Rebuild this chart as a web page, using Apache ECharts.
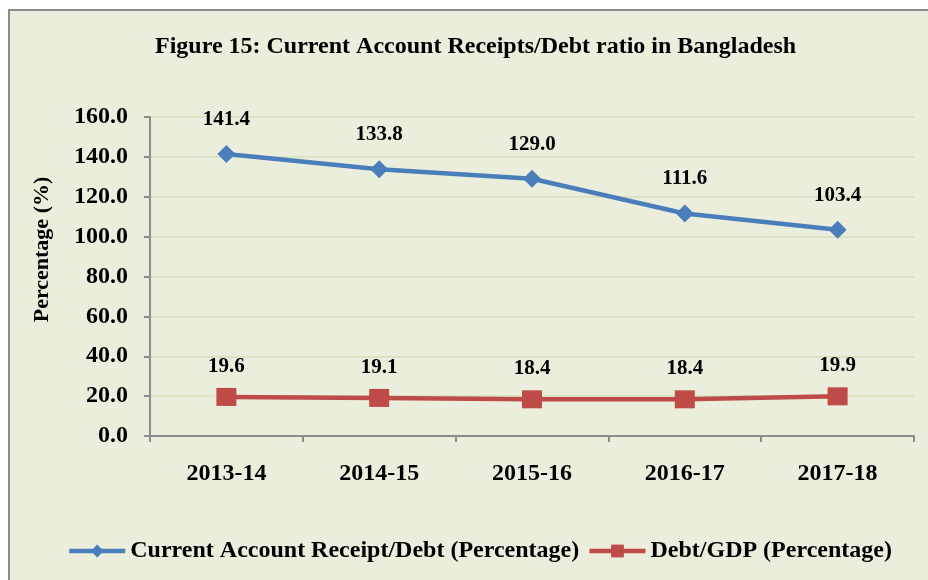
<!DOCTYPE html>
<html>
<head>
<meta charset="utf-8">
<script src="https://cdn.jsdelivr.net/npm/echarts@6/dist/echarts.min.js"></script>
<style>html,body{margin:0;padding:0;background:#fff}#c{width:928px;height:580px}</style>
</head>
<body>
<div id="c"></div>
<script>
var categories = ['2013-14', '2014-15', '2015-16', '2016-17', '2017-18'];
var receiptDebt = [141.4, 133.8, 129.0, 111.6, 103.4];
var debtGdp = [19.6, 19.1, 18.4, 18.4, 19.9];
var seriesNames = ['Current Account Receipt/Debt (Percentage)', 'Debt/GDP (Percentage)'];
var titleText = 'Figure 15: Current Account Receipts/Debt ratio in Bangladesh';
var yName = 'Percentage (%)';

var FONT = '"Liberation Serif", "Times New Roman", serif';
var chart = echarts.init(document.getElementById('c'));
chart.setOption({
  backgroundColor: '#ffffff',
  animation: false,
  graphic: [{
    type: 'rect', z: -10, silent: true,
    shape: { x: 9, y: 10, width: 940, height: 600 },
    style: { fill: '#EBEEDD', stroke: '#8C8C8C', lineWidth: 2 }
  }],
  title: {
    text: titleText, left: 150, top: 30,
    textStyle: { fontFamily: FONT, fontWeight: 'bold', fontSize: 24, color: '#000' }
  },
  legend: {
    bottom: 12, left: 62, itemWidth: 56, itemHeight: 16, itemGap: 8,
    lineStyle: { width: 4.5 },
    textStyle: { fontFamily: FONT, fontWeight: 'bold', fontSize: 24, color: '#000' },
    data: seriesNames
  },
  grid: { left: 150, right: 14, top: 117, bottom: 144 },
  xAxis: {
    type: 'category', data: categories, boundaryGap: true,
    axisLine: { lineStyle: { color: '#8C8C8C', width: 2 } },
    axisTick: { show: true, length: 6, lineStyle: { color: '#8C8C8C', width: 2 } },
    axisLabel: { margin: 26, fontFamily: FONT, fontWeight: 'bold', fontSize: 24, color: '#000' }
  },
  yAxis: {
    type: 'value', min: 0, max: 160, interval: 20,
    name: yName, nameLocation: 'middle', nameGap: 97, nameRotate: 90,
    nameTextStyle: { fontFamily: FONT, fontWeight: 'bold', fontSize: 22, color: '#000', padding: [0, 0, 0, 54] },
    axisLine: { show: true, lineStyle: { color: '#8C8C8C', width: 2 } },
    axisTick: { show: true, length: 6, lineStyle: { color: '#8C8C8C', width: 2 } },
    splitLine: { lineStyle: { color: '#D3E1B8', width: 1.5 } },
    axisLabel: {
      margin: 22, fontFamily: FONT, fontWeight: 'bold', fontSize: 24, color: '#000',
      formatter: function (v) { return v.toFixed(1); }
    }
  },
  series: [{
    name: seriesNames[0], type: 'line', data: receiptDebt,
    symbol: 'diamond', symbolSize: 18,
    lineStyle: { color: '#4A7EBB', width: 4.5 },
    itemStyle: { color: '#4A7EBB' },
    label: {
      show: true, position: 'top', distance: 15,
      fontFamily: FONT, fontWeight: 'bold', fontSize: 21, color: '#000',
      formatter: function (p) { return p.value.toFixed(1); }
    }
  }, {
    name: seriesNames[1], type: 'line', data: debtGdp,
    symbol: 'rect', symbolSize: [20, 18],
    lineStyle: { color: '#BE4B48', width: 4.5 },
    itemStyle: { color: '#BE4B48' },
    label: {
      show: true, position: 'top', distance: 11,
      fontFamily: FONT, fontWeight: 'bold', fontSize: 21, color: '#000',
      formatter: function (p) { return p.value.toFixed(1); }
    }
  }]
});
</script>
</body>
</html>
